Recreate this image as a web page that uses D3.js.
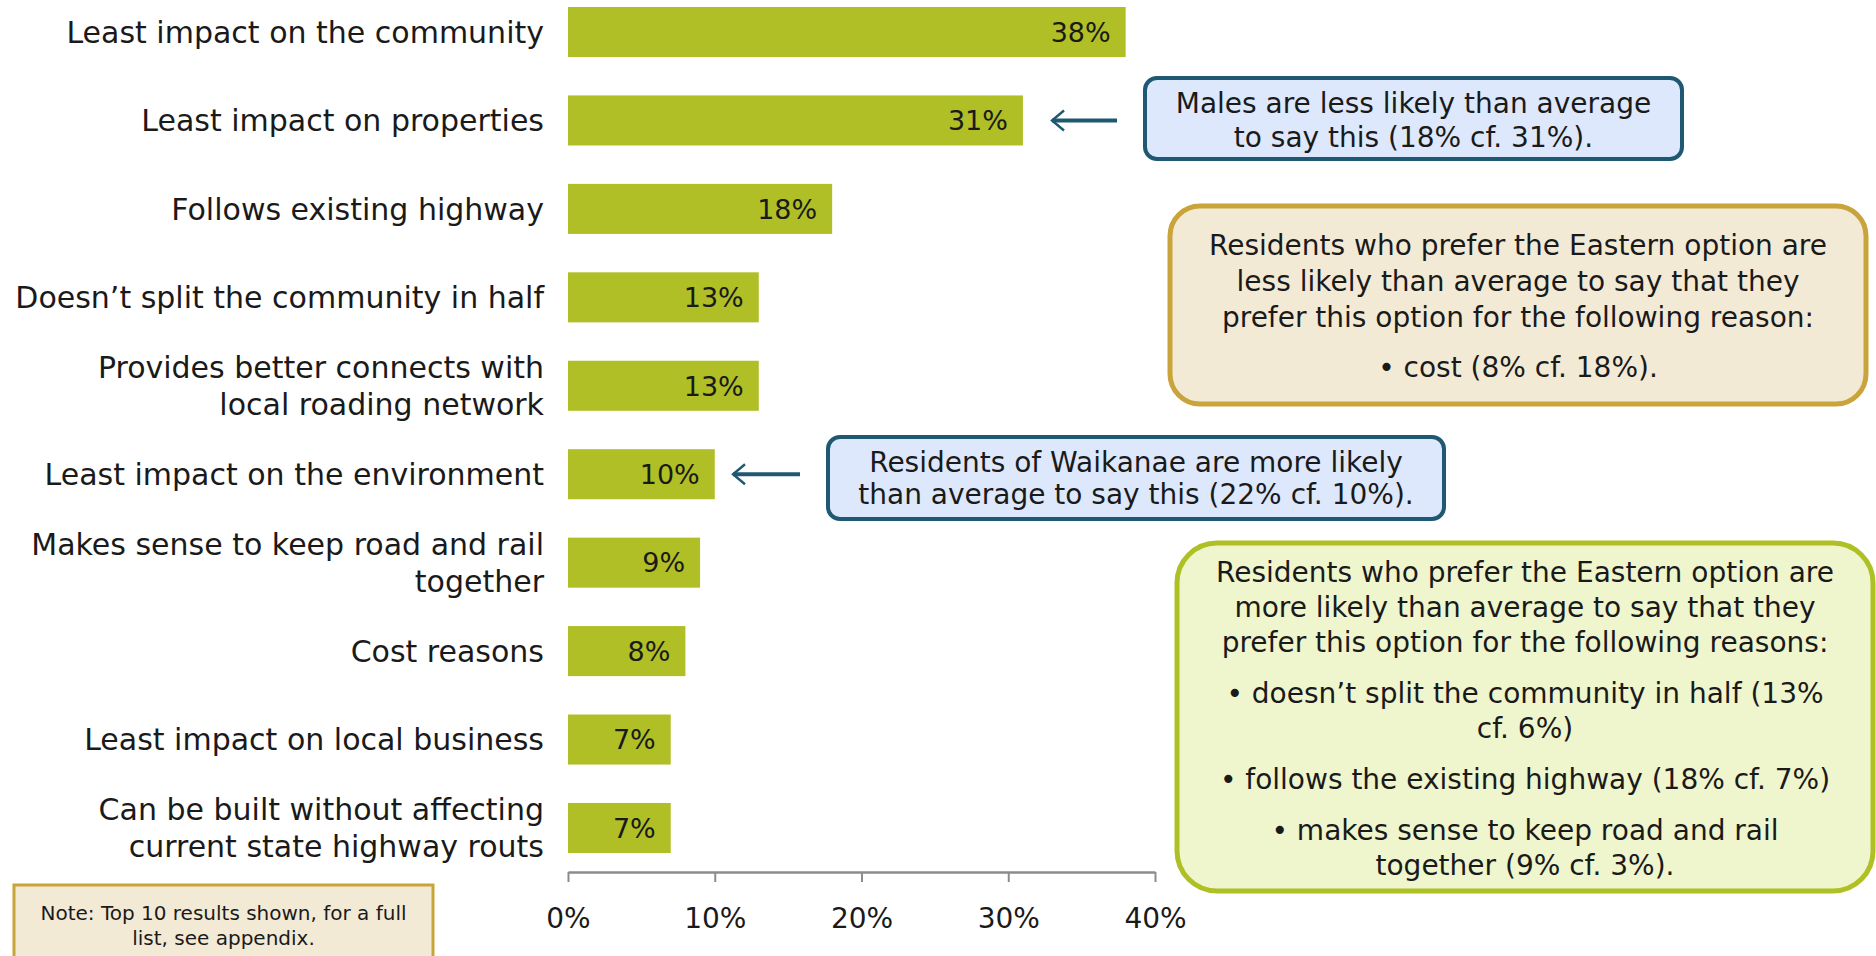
<!DOCTYPE html>
<html>
<head>
	<title>Reasons for preferring the option</title>
	<script src="https://d3js.org/d3.v7.min.js"></script>
	<style>
		body { margin: 0; background: #fff; }
		svg text { font-family: "DejaVu Sans", sans-serif; fill: #1a1a1a; }
	</style>
</head>
<body>
	<svg width="1876" height="956" id="chart"></svg>
<script>
	// chart values
	var categories = [
		["Least impact on the community"],
		["Least impact on properties"],
		["Follows existing highway"],
		["Doesn\u2019t split the community in half"],
		["Provides better connects with", "local roading network"],
		["Least impact on the environment"],
		["Makes sense to keep road and rail", "together"],
		["Cost reasons"],
		["Least impact on local business"],
		["Can be built without affecting", "current state highway routs"]
	]
	var values = [0.38, 0.31, 0.18, 0.13, 0.13, 0.10, 0.09, 0.08, 0.07, 0.07]
	var tickValues = [0, 0.1, 0.2, 0.3, 0.4]

	var malesNote = ["Males are less likely than average", "to say this (18% cf. 31%)."]
	var waikanaeNote = ["Residents of Waikanae are more likely", "than average to say this (22% cf. 10%)."]
	var lessNote = [
		["Residents who prefer the Eastern option are", "less likely than average to say that they", "prefer this option for the following reason:"],
		["\u2022 cost (8% cf. 18%)."]
	]
	var moreNote = [
		["Residents who prefer the Eastern option are", "more likely than average to say that they", "prefer this option for the following reasons:"],
		["\u2022 doesn\u2019t split the community in half (13%", "cf. 6%)"],
		["\u2022 follows the existing highway (18% cf. 7%)"],
		["\u2022 makes sense to keep road and rail", "together (9% cf. 3%)."]
	]
	var footNote = ["Note: Top 10 results shown, for a full", "list, see appendix."]

	var svg = d3.select("#chart")
	var keys = categories.map(function(d, i) { return i })

	var x = d3.scaleLinear().domain([0, 0.4]).range([568, 1155])
	var y = d3.scaleBand().domain(keys).range([-12.2, 872.2]).paddingInner(0.434).paddingOuter(0.217)

	// bars
	svg.append("g").selectAll("rect")
		.data(values)
		.enter().append("rect")
		.attr("x", x(0))
		.attr("y", function(d, i) { return y(i) })
		.attr("width", function(d) { return x(d) - x(0) })
		.attr("height", y.bandwidth())
		.attr("fill", "#b0bf26")

	// value labels
	svg.append("g").selectAll("text")
		.data(values)
		.enter().append("text")
		.attr("x", function(d) { return x(d) - 15 })
		.attr("y", function(d, i) { return y(i) + y.bandwidth() / 2 })
		.attr("dy", "0.36em")
		.attr("text-anchor", "end")
		.style("font-size", "27px")
		.text(function(d) { return Math.round(d * 100) + "%" })

	// category labels
	var lab = svg.append("g").selectAll("text")
		.data(categories)
		.enter().append("text")
		.attr("text-anchor", "end")
		.style("font-size", "30px")
		.attr("y", function(d, i) { return y(i) + y.bandwidth() / 2 })
	lab.each(function(lines) {
		var t = d3.select(this), y0 = +t.attr("y")
		lines.forEach(function(l, j) {
			t.append("tspan")
				.attr("x", 544)
				.attr("y", y0 + (j - (lines.length - 1) / 2) * 37)
				.attr("dy", "0.36em")
				.text(l)
		})
	})

	// x axis
	var axis = svg.append("g")
		.attr("transform", "translate(0,872)")
		.call(d3.axisBottom(x).tickValues(tickValues).tickFormat(d3.format(".0%")).tickSize(10).tickSizeOuter(0).tickPadding(26))
	axis.select(".domain").attr("stroke", "#8c8c8c").attr("stroke-width", 2.5)
	axis.selectAll(".tick line").attr("stroke", "#8c8c8c").attr("stroke-width", 2)
	axis.selectAll(".tick text").style("font-size", "28px").attr("fill", "#1a1a1a")
		.style("font-family", "DejaVu Sans, sans-serif")

	// arrows
	var defs = svg.append("defs")
	defs.append("marker")
		.attr("id", "head")
		.attr("viewBox", "0 0 12 12")
		.attr("refX", 9.5).attr("refY", 6)
		.attr("markerWidth", 6).attr("markerHeight", 6)
		.attr("orient", "auto")
		.append("path")
		.attr("d", "M3.5,1 L9.5,6 L3.5,11")
		.attr("fill", "none")
		.attr("stroke", "#1f5872")
		.attr("stroke-width", 1.2)

	function arrow(idx, x1, x2) {
		var cy = y(idx) + y.bandwidth() / 2
		svg.append("line")
			.attr("x1", x1).attr("x2", x2)
			.attr("y1", cy).attr("y2", cy)
			.attr("stroke", "#1f5872")
			.attr("stroke-width", 4)
			.attr("marker-end", "url(#head)")
	}
	arrow(1, 1117, 1052)
	arrow(5, 800, 733)

	// note boxes
	function noteBox(x0, y0, w, h, r, fill, stroke, sw, paras, firstY, lineH, paraGap, fs) {
		svg.append("rect")
			.attr("x", x0).attr("y", y0).attr("width", w).attr("height", h)
			.attr("rx", r).attr("ry", r)
			.attr("fill", fill).attr("stroke", stroke).attr("stroke-width", sw)
		var t = svg.append("text").attr("text-anchor", "middle").style("font-size", fs + "px")
		var cy = firstY
		paras.forEach(function(p, pi) {
			if (pi > 0) cy += paraGap
			p.forEach(function(l, li) {
				if (li > 0) cy += lineH
				t.append("tspan").attr("x", x0 + w / 2).attr("y", cy).attr("dy", "0.36em").text(l)
			})
		})
	}

	noteBox(1145, 78, 537, 81, 12, "#dde8fc", "#1f5872", 4, [malesNote], 103, 34, 0, 28)
	noteBox(1170, 206, 696, 198, 30, "#f3ead6", "#c9a43a", 5, lessNote, 245, 36, 50, 28)
	noteBox(828, 437, 616, 82, 12, "#dde8fc", "#1f5872", 4, [waikanaeNote], 462, 32, 0, 28)
	noteBox(1177, 543, 696, 348, 40, "#eff5cd", "#afc025", 5, moreNote, 572, 35, 51, 28)
	noteBox(14, 885, 419, 80, 0, "#f3ead6", "#c9a43a", 3, [footNote], 913, 25, 0, 20)
</script>
</body>
</html>
